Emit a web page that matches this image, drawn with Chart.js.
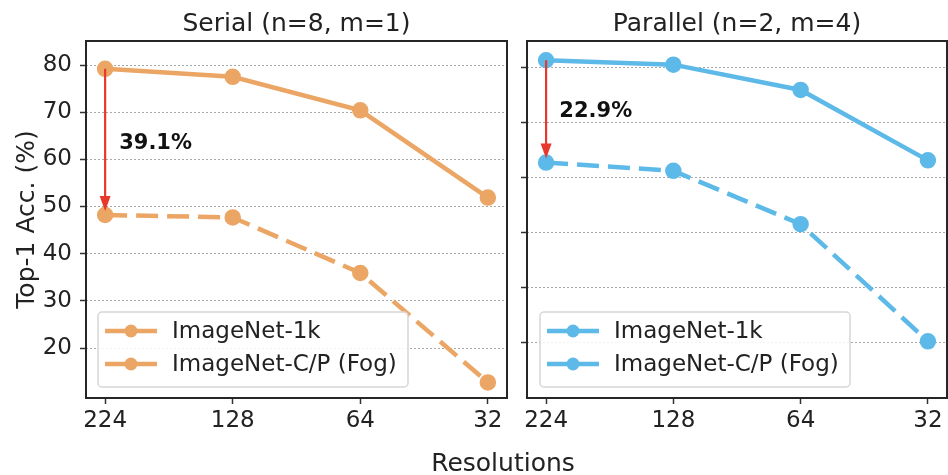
<!DOCTYPE html>
<html>
<head>
<meta charset="utf-8">
<script src="https://cdn.jsdelivr.net/npm/chart.js@4.4.0/dist/chart.umd.min.js"></script>
<style>
  body { margin: 0; background: #fff; }
  #wrap { position: relative; width: 948px; height: 475px; overflow: hidden; }
  canvas { position: absolute; top: 0; }
  #left { left: 0; }
  #right { left: 512px; }
  #xtitle { position: absolute; left: 0; width: 1006px; top: 448px; line-height: 30px; text-align: center;
            font-family: 'DejaVu Sans'; font-size: 25px; color: #222; }
</style>
</head>
<body>
<div id="wrap">
  <canvas id="left" width="512" height="475"></canvas>
  <canvas id="right" width="436" height="475"></canvas>
  <div id="xtitle">Resolutions</div>
</div>
<script>
// values
const resolutions = ['224', '128', '64', '32'];
const seriesNames = ['ImageNet-1k', 'ImageNet-C/P (Fog)'];
const serialClean = [79.2, 77.5, 70.4, 51.9];
const serialFog = [48.2, 47.7, 35.9, 12.7];
const parallelClean = [81.4, 80.6, 76.0, 63.2];
const parallelFog = [62.8, 61.3, 51.6, 30.3];
const serialYTicks = [20, 30, 40, 50, 60, 70, 80];
const parallelYTicks = [30, 40, 50, 60, 70, 80];
const dropLabels = ['39.1%', '22.9%'];

Chart.defaults.font.family = "'DejaVu Sans'";
Chart.defaults.color = '#222';

const orange = '#EBA564';
const blue = '#5DB9E8';

// box around the plot, like matplotlib spines
const framePlugin = {
  id: 'frame',
  afterDraw(chart) {
    const { ctx, chartArea: a } = chart;
    ctx.save();
    ctx.strokeStyle = '#262626';
    ctx.lineWidth = 2;
    ctx.strokeRect(a.left, a.top, a.right - a.left, a.bottom - a.top);
    ctx.restore();
  }
};

// red arrow from clean to fog accuracy at 224, plus the drop label
const dropPlugin = {
  id: 'drop',
  afterDatasetsDraw(chart, args, opts) {
    const { ctx, scales: { x, y } } = chart;
    const px = x.getPixelForValue(0);
    const y0 = y.getPixelForValue(opts.from);
    const tip = y.getPixelForValue(opts.to) - 4;
    ctx.save();
    ctx.strokeStyle = '#E8382D';
    ctx.fillStyle = '#E8382D';
    ctx.lineWidth = 2.2;
    ctx.beginPath();
    ctx.moveTo(px, y0);
    ctx.lineTo(px, tip - 10);
    ctx.stroke();
    ctx.beginPath();
    ctx.moveTo(px, tip);
    ctx.lineTo(px - 5.5, tip - 15);
    ctx.lineTo(px + 5.5, tip - 15);
    ctx.closePath();
    ctx.fill();
    ctx.fillStyle = '#111';
    ctx.font = "bold 21px 'DejaVu Sans'";
    ctx.textBaseline = 'middle';
    ctx.fillText(opts.label, x.getPixelForValue(opts.at[0]), y.getPixelForValue(opts.at[1]));
    ctx.restore();
  }
};

// legend inside the plot, lower left
const boxLegendPlugin = {
  id: 'boxLegend',
  afterDatasetsDraw(chart, args, opts) {
    const { ctx, chartArea: a } = chart;
    const bx = a.left + opts.dx, by = a.bottom - 86, bw = 310, bh = 75;
    ctx.save();
    ctx.fillStyle = 'rgba(255,255,255,0.85)';
    ctx.strokeStyle = '#d6d6d6';
    ctx.lineWidth = 1.5;
    ctx.beginPath();
    ctx.roundRect(bx, by, bw, bh, 4);
    ctx.fill();
    ctx.stroke();
    chart.data.datasets.forEach((ds, i) => {
      const cy = by + 19 + i * 33;
      ctx.strokeStyle = ds.borderColor;
      ctx.lineWidth = ds.borderWidth;
      ctx.setLineDash(ds.borderDash || []);
      ctx.beginPath();
      ctx.moveTo(bx + 7, cy);
      ctx.lineTo(bx + 59, cy);
      ctx.stroke();
      ctx.setLineDash([]);
      ctx.fillStyle = ds.borderColor;
      ctx.beginPath();
      ctx.arc(bx + 33, cy, 6.5, 0, Math.PI * 2);
      ctx.fill();
      ctx.fillStyle = '#222';
      ctx.font = "23px 'DejaVu Sans'";
      ctx.textBaseline = 'middle';
      ctx.fillText(ds.label, bx + 74, cy + 1);
    });
    ctx.restore();
  }
};

function makePanel(id, p) {
  const toPoints = vals => vals.map((v, i) => ({ x: i, y: v }));
  const lineStyle = {
    borderColor: p.color,
    backgroundColor: p.color,
    pointBackgroundColor: p.color,
    pointBorderColor: p.color,
    borderWidth: 4.5,
    pointRadius: 6,
    tension: 0
  };
  return new Chart(document.getElementById(id), {
    type: 'line',
    data: {
      datasets: [
        Object.assign({ label: seriesNames[0], data: toPoints(p.clean) }, lineStyle),
        Object.assign({ label: seriesNames[1], data: toPoints(p.fog), borderDash: [22, 9] }, lineStyle)
      ]
    },
    options: {
      responsive: false,
      animation: false,
      devicePixelRatio: 1,
      events: [],
      layout: { autoPadding: false, padding: { left: 0, right: p.padRight, top: 0, bottom: 0 } },
      plugins: {
        legend: { display: false },
        tooltip: { enabled: false },
        title: {
          display: true,
          text: p.title,
          fullSize: false,
          font: { size: 25, weight: 'normal' },
          color: '#222',
          padding: { top: 9, bottom: 2 }
        },
        drop: { from: p.clean[0], to: p.fog[0], label: p.dropLabel, at: p.labelAt },
        boxLegend: { dx: p.legendDx }
      },
      scales: {
        x: {
          type: 'linear',
          min: -0.15,
          max: 3.15,
          afterBuildTicks: s => { s.ticks = resolutions.map((r, i) => ({ value: i })); },
          afterFit: s => { s.height = 77; s.paddingLeft = 0; s.paddingRight = 0; },
          ticks: { font: { size: 23 }, color: '#222', padding: 3, callback: v => resolutions[v] },
          grid: { drawOnChartArea: false, drawTicks: true, tickLength: 6, tickColor: '#333', tickWidth: 1.5 },
          border: { display: false }
        },
        y: {
          min: p.yMin,
          max: p.yMax,
          afterBuildTicks: s => { s.ticks = p.yTicks.map(v => ({ value: v })); },
          afterFit: s => { s.width = p.yWidth; s.paddingTop = 0; s.paddingBottom = 0; },
          ticks: {
            font: { size: 23 },
            color: '#222',
            padding: 8,
            callback: v => (p.showYLabels ? v : '')
          },
          title: {
            display: p.showYLabels,
            text: 'Top-1 Acc. (%)',
            font: { size: 25 },
            color: '#222',
            padding: { top: 12, bottom: 0 }
          },
          grid: {
            color: '#a8a8a8',
            lineWidth: 1,
            borderDash: [2, 2],
            tickLength: 6,
            tickColor: '#333',
            tickWidth: 1.5,
            tickBorderDash: []
          },
          border: { display: false, dash: [2, 2] }
        }
      }
    },
    plugins: [framePlugin, dropPlugin, boxLegendPlugin]
  });
}

makePanel('left', {
  title: 'Serial (n=8, m=1)',
  clean: serialClean,
  fog: serialFog,
  color: orange,
  yMin: 9.4,
  yMax: 85.1,
  yTicks: serialYTicks,
  yWidth: 86,
  padRight: 5,
  showYLabels: true,
  dropLabel: dropLabels[0],
  labelAt: [0.11, 63.3],
  legendDx: 12
});

makePanel('right', {
  title: 'Parallel (n=2, m=4)',
  clean: parallelClean,
  fog: parallelFog,
  color: blue,
  yMin: 20,
  yMax: 84.9,
  yTicks: parallelYTicks,
  yWidth: 15,
  padRight: 1,
  showYLabels: false,
  dropLabel: dropLabels[1],
  labelAt: [0.104, 72.0],
  legendDx: 13
});
</script>
</body>
</html>
